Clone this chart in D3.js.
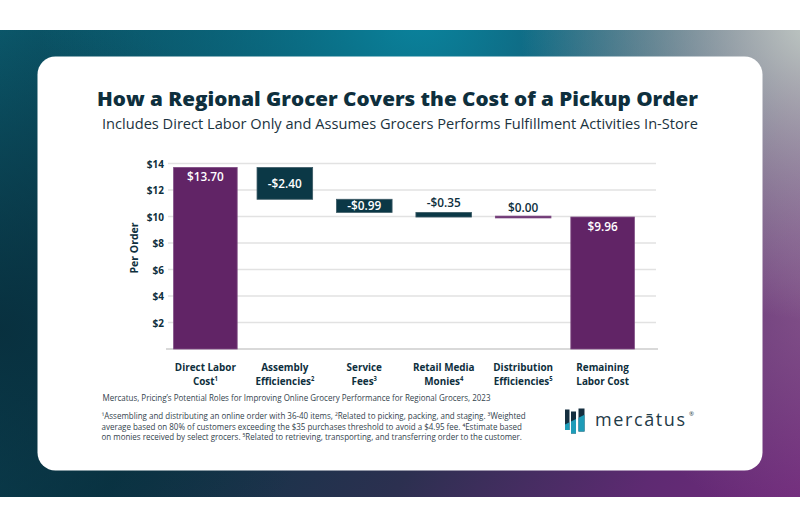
<!DOCTYPE html>
<html><head><meta charset="utf-8">
<script src="https://cdn.jsdelivr.net/npm/d3@7"></script>
<style>
html,body{margin:0;padding:0;background:#fff;}
svg{display:block;font-family:"Open Sans","Noto Sans",sans-serif;}
</style>
</head><body>
<svg id="chart" width="800" height="528"></svg>
<script>
// ---------------- data ----------------
const categories = ["Direct Labor Cost", "Assembly Efficiencies", "Service Fees", "Retail Media Monies", "Distribution Efficiencies", "Remaining Labor Cost"];
const categoryLines = [["Direct Labor", "Cost¹"], ["Assembly", "Efficiencies²"], ["Service", "Fees³"], ["Retail Media", "Monies⁴"], ["Distribution", "Efficiencies⁵"], ["Remaining", "Labor Cost"]];
const values = [13.70, -2.40, -0.99, -0.35, 0.00, 9.96];
const barKinds = ["total", "delta", "delta", "delta", "delta", "total"];
const valueLabels = ["$13.70", "-$2.40", "-$0.99", "-$0.35", "$0.00", "$9.96"];
const yTicks = [2, 4, 6, 8, 10, 12, 14];
const yTickLabels = ["$2", "$4", "$6", "$8", "$10", "$12", "$14"];
const titleText = "How a Regional Grocer Covers the Cost of a Pickup Order";
const subtitleText = "Includes Direct Labor Only and Assumes Grocers Performs Fulfillment Activities In-Store";
const yAxisTitle = "Per Order";
const sourceText = "Mercatus, Pricing’s Potential Roles for Improving Online Grocery Performance for Regional Grocers, 2023";
const footnoteLines = [
  "¹Assembling and distributing an online order with 36-40 items, ²Related to picking, packing, and staging. ³Weighted",
  "average based on 80% of customers exceeding the $35 purchases threshold to avoid a $4.95 fee. ⁴Estimate based",
  "on monies received by select grocers. ⁵Related to retrieving, transporting, and transferring order to the customer."
];
const logoText = "mercātus";

// ---------------- styles ----------------
const INK = "#0e2f3d";
const PURPLE = "#612466";
const TEAL = "#0b3846";
const SUP = { "¹": "1", "²": "2", "³": "3", "⁴": "4", "⁵": "5" };

const svg = d3.select("#chart");
const defs = svg.append("defs");

// background gradient (mesh-like with layers)
const lg = defs.append("linearGradient").attr("id", "bgBase")
  .attr("gradientUnits", "userSpaceOnUse").attr("x1", 0).attr("y1", 30).attr("x2", 800).attr("y2", 497);
[["0", "#0b5a6d"], ["0.35", "#0a3646"], ["0.62", "#2c3050"], ["0.85", "#5e2a72"], ["1", "#712a7c"]]
  .forEach(([o, c]) => lg.append("stop").attr("offset", o).attr("stop-color", c));

function radial(id, cx, cy, r, color, op) {
  const g = defs.append("radialGradient").attr("id", id)
    .attr("gradientUnits", "userSpaceOnUse").attr("cx", cx).attr("cy", cy).attr("r", r);
  g.append("stop").attr("offset", "0").attr("stop-color", color).attr("stop-opacity", op);
  g.append("stop").attr("offset", "1").attr("stop-color", color).attr("stop-opacity", 0);
}
radial("rTeal", 420, 10, 380, "#0a849e", 1);
radial("rGrey", 820, 20, 300, "#c2cdc6", 1);
radial("rMauve", 830, 300, 230, "#9a7499", 0.55);
radial("rDark", 0, 330, 330, "#082c3a", 0.85);

const bgRect = (fill) => svg.append("rect").attr("x", 0).attr("y", 30).attr("width", 800).attr("height", 467).attr("fill", fill);
bgRect("url(#bgBase)");
bgRect("url(#rDark)");
bgRect("url(#rTeal)");
bgRect("url(#rMauve)");
bgRect("url(#rGrey)");

// card
svg.append("rect").attr("x", 37.5).attr("y", 56.5).attr("width", 725).attr("height", 414)
  .attr("rx", 18).attr("fill", "#fff");

// titles
svg.append("text").attr("x", 397.5).attr("y", 106).attr("text-anchor", "middle")
  .attr("font-size", 18.7).attr("font-weight", 800).attr("fill", INK)
  .attr("textLength", 601).attr("lengthAdjust", "spacingAndGlyphs").text(titleText);
svg.append("text").attr("x", 400).attr("y", 128.5).attr("text-anchor", "middle")
  .attr("font-size", 14).attr("font-weight", 400).attr("fill", "#1b3340")
  .attr("textLength", 596).attr("lengthAdjust", "spacingAndGlyphs").text(subtitleText);

// ---------------- chart ----------------
const y = d3.scaleLinear().domain([0, 14]).range([349, 163.5]);
const x = d3.scaleBand().domain(categories).range([165, 643]).paddingInner(0.283).paddingOuter(0.15);

// gridlines
svg.append("g").selectAll("line").data(yTicks).join("line")
  .attr("x1", 168).attr("x2", 656)
  .attr("y1", d => y(d)).attr("y2", d => y(d))
  .attr("stroke", "#e2e2e2").attr("stroke-width", 1.5);
// baseline
svg.append("line").attr("x1", 166).attr("x2", 658).attr("y1", y(0)).attr("y2", y(0))
  .attr("stroke", "#cdcdcd").attr("stroke-width", 1.5);

// y axis labels
const yAxis = d3.axisLeft(y).tickValues(yTicks).tickSize(0).tickPadding(0)
  .tickFormat((d, i) => yTickLabels[i]);
const gy = svg.append("g").attr("transform", "translate(164,0)").call(yAxis);
gy.select(".domain").remove();
gy.selectAll("text").attr("font-family", "'Open Sans', sans-serif").attr("font-size", 10)
  .attr("font-weight", 700).attr("fill", INK).attr("dy", "0.35em");

svg.append("text").attr("transform", "translate(137.5,248) rotate(-90)")
  .attr("text-anchor", "middle").attr("font-size", 10.5).attr("font-weight", 700)
  .attr("fill", INK).text(yAxisTitle);

// waterfall computation
let running = 0;
const bars = values.map((v, i) => {
  let y0, y1;
  if (barKinds[i] === "total") { y0 = 0; y1 = v; running = v; }
  else { y0 = running; y1 = running + v; running = y1; }
  return { cat: categories[i], v, kind: barKinds[i], lo: Math.min(y0, y1), hi: Math.max(y0, y1), label: valueLabels[i], lines: categoryLines[i] };
});

const step = x.step();
const barW = d => d.kind === "total" ? step * 0.80 : step * 0.70;
const barColor = d => (d.kind === "total" || d.v >= 0) ? PURPLE : TEAL;
const barStroke = d => (d.kind === "total" || d.v >= 0) ? "#7d4a82" : "#3d5b66";

const gBars = svg.append("g");
gBars.selectAll("rect").data(bars).join("rect")
  .attr("x", d => x(d.cat) + x.bandwidth() / 2 - barW(d) / 2)
  .attr("width", d => barW(d))
  .attr("y", d => {
    const h = y(d.lo) - y(d.hi);
    return h < 1.8 ? y(d.hi) - 0.9 : y(d.hi);
  })
  .attr("height", d => Math.max(1.8, y(d.lo) - y(d.hi)))
  .attr("fill", barColor).attr("stroke", barStroke).attr("stroke-width", 0.8);

// value labels
svg.append("g").selectAll("text").data(bars).join("text")
  .attr("x", d => x(d.cat) + x.bandwidth() / 2)
  .attr("y", d => {
    const top = y(d.hi), h = y(d.lo) - y(d.hi);
    if (d.kind === "total") return top + 14;
    if (h >= 10) return top + h / 2 + 4.2;
    return top - 5;
  })
  .attr("text-anchor", "middle").attr("font-size", 11.8).attr("font-weight", 600)
  .attr("fill", d => {
    const h = y(d.lo) - y(d.hi);
    return (d.kind === "total" || h >= 10) ? "#fff" : INK;
  })
  .text(d => d.label);

// category labels (one text per line, superscripts as small raised tspans)
function writeWithSup(sel, str, size) {
  let buf = "";
  const flush = () => { if (buf) { sel.append("tspan").text(buf); buf = ""; } };
  for (const ch of str) {
    if (SUP[ch]) {
      flush();
      sel.append("tspan").attr("font-size", size).attr("dy", -3.3).text(SUP[ch]);
    } else buf += ch;
  }
  flush();
}
const gCat = svg.append("g").selectAll("g").data(bars).join("g")
  .attr("transform", d => `translate(${x(d.cat) + x.bandwidth() / 2},0)`);
gCat.each(function (d) {
  const g = d3.select(this);
  d.lines.forEach((line, i) => {
    const t = g.append("text").attr("transform", `translate(0,${370.5 + i * 14}) scale(0.9,1)`)
      .attr("text-anchor", "middle").attr("font-size", 11).attr("font-weight", 700).attr("fill", INK);
    writeWithSup(t, line, 6.5);
  });
});

// ---------------- footer ----------------
const src = svg.append("text").attr("x", 102.5).attr("y", 400.5)
  .attr("font-size", 8.4).attr("fill", "#33434d").text(sourceText);
const natural = src.node().getComputedTextLength();
const ratio = 388 / natural;
src.attr("textLength", natural * ratio).attr("lengthAdjust", "spacingAndGlyphs");

svg.append("g").selectAll("text").data(footnoteLines).join("text")
  .attr("x", 101.5).attr("y", (d, i) => 419 + i * 10.6)
  .attr("font-size", 8.4).attr("fill", "#33434d").text(d => d)
  .each(function () {
    const n = this.getComputedTextLength();
    d3.select(this).attr("textLength", n * ratio).attr("lengthAdjust", "spacingAndGlyphs");
  });

// logo
const logo = svg.append("g");
defs.append("clipPath").attr("id", "iconClip").selectAll("rect")
  .data([[565, 409.5, 4.5, 20.5], [571, 411.5, 5, 22], [578.5, 408.5, 6, 23]]).join("rect")
  .attr("x", d => d[0]).attr("y", d => d[1]).attr("width", d => d[2]).attr("height", d => d[3]);
const icon = logo.append("g").attr("clip-path", "url(#iconClip)");
icon.append("rect").attr("x", 560).attr("y", 400).attr("width", 30).attr("height", 40).attr("fill", "#152f3f");
icon.append("polygon").attr("points", "560,427 590,412 590,440 560,440").attr("fill", "#1e9cb8");
logo.append("text").attr("x", 595).attr("y", 425.5).attr("font-size", 18).attr("font-weight", 400)
  .attr("letter-spacing", 1.6).attr("fill", "#1f3b48").text(logoText);
logo.append("text").attr("x", 689).attr("y", 416).attr("font-size", 6).attr("fill", "#1f3b48").text("®");
</script>
</body></html>
